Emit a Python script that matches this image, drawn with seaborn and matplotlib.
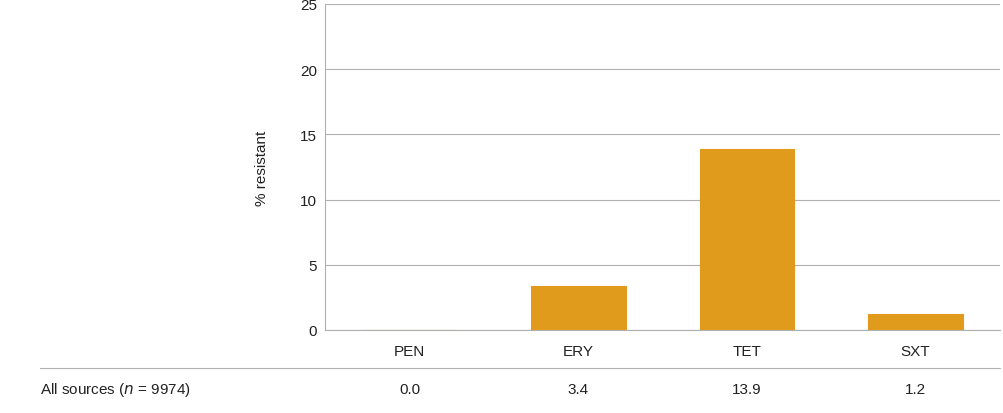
import pandas as pd
import matplotlib.pyplot as plt
import seaborn as sns

sns.set_style('white')
plt.rcParams['font.family'] = ['Liberation Sans', 'DejaVu Sans']

antimicrobials = ['PEN', 'ERY', 'TET', 'SXT']
pct_resistant = [0.0, 3.4, 13.9, 1.2]
row_label = 'All sources ($n$ = 9974)'
yticks = [0, 5, 10, 15, 20, 25]

df = pd.DataFrame({'drug': antimicrobials, 'pct': pct_resistant})

fig = plt.figure(figsize=(10.04, 4.14), dpi=100)
ax = fig.add_axes([0.324, 0.2005, 0.672, 0.7875])
sns.barplot(data=df, x='drug', y='pct', color='#E09A1C', saturation=1,
            width=0.56, edgecolor='#E09A1C', linewidth=0.8, ax=ax, zorder=3)

ax.set_ylim(0, 25)
ax.set_yticks(yticks)
ax.yaxis.grid(True, color='#B0B0B0', linewidth=0.8, zorder=0)
for s in ['top', 'right']:
    ax.spines[s].set_visible(False)
ax.spines['left'].set_color('#B0B0B0')
ax.spines['bottom'].set_color('#B0B0B0')
ax.tick_params(axis='both', length=0, labelsize=11, colors='#222222', pad=6)
ax.tick_params(axis='x', pad=10)
ax.set_xlabel('')
ax.set_ylabel('% resistant', fontsize=11, color='#222222', labelpad=22)

# table row below the chart
trans = ax.get_xaxis_transform()
fig.text(40 / 1004, 1 - 390 / 414, row_label, fontsize=11, color='#222222', va='center')
for i, v in enumerate(pct_resistant):
    ax.text(i, -0.18, f'{v:.1f}', transform=trans, ha='center', va='center',
            fontsize=11, color='#222222')
fig.add_artist(plt.Line2D([40 / 1004, 0.996], [1 - 369 / 414] * 2, color='#B0B0B0', linewidth=0.8))

fig.savefig('out.png', dpi=100)
